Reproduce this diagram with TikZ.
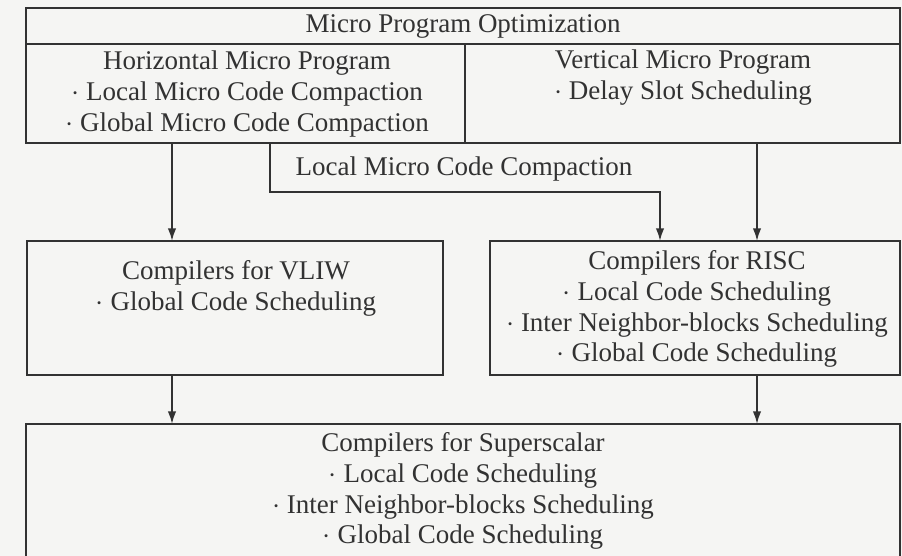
\documentclass[tikz,border=0pt]{standalone}
\usepackage{fontspec}
\setmainfont{Liberation Serif}
\usetikzlibrary{arrows.meta}
\definecolor{ink}{RGB}{50,50,50}
\definecolor{paper}{RGB}{245,245,243}

\begin{document}
\begin{tikzpicture}
			[x=0.025cm, y=-0.025cm, line width=1.2pt, draw=ink,
			box/.style ={rectangle, draw=ink, inner sep=0pt, outer sep=0pt},
			txt/.style ={align=center, text=ink, inner sep=0pt, font=\fontsize{19.2}{22}\selectfont},
			arr/.style ={draw=ink, -{Latex[length=9pt,width=6pt]}}]
			\useasboundingbox[fill=paper] (0,0) rectangle (902,556);
			\clip (0,0) rectangle (902,556);
			\node[box, minimum width=21.85cm, minimum height=3.375cm] (opt) at (463,75.5) {};
			\node[box, minimum width=10.4cm, minimum height=3.35cm] (vliw) at (235,308) {};
			\node[box, minimum width=10.25cm, minimum height=3.35cm] (risc) at (695,308) {};
			\node[box, minimum width=21.85cm, minimum height=3.9cm] (ss) at (463,502) {};
			\draw (opt.west |- 0,44) -- (opt.east |- 0,44);
			\draw (465,44) -- (465,0 |- opt.south);
			\node[txt] (title) at (463,26) {Micro Program Optimization};
			\node[txt] (horiz) at (247,94) {Horizontal Micro Program\\ $\cdot$ Local Micro Code Compaction\\ $\cdot$ Global Micro Code Compaction};
			\node[txt] (vert) at (683,78) {Vertical Micro Program\\ $\cdot$ Delay Slot Scheduling};
			\node[txt] (lmc) at (464,169) {Local Micro Code Compaction};
			\node[txt] (vliwtxt) at (236,288) {Compilers for VLIW\\ $\cdot$ Global Code Scheduling};
			\node[txt] (risctxt) at (697,309) {Compilers for RISC\\ $\cdot$ Local Code Scheduling\\ $\cdot$ Inter Neighbor-blocks Scheduling\\ $\cdot$ Global Code Scheduling};
			\node[txt] (sstxt) at (463,491) {Compilers for Superscalar\\ $\cdot$ Local Code Scheduling\\ $\cdot$ Inter Neighbor-blocks Scheduling\\ $\cdot$ Global Code Scheduling};
			\draw[arr] (172,0 |- opt.south) -- (172,0 |- vliw.north);
			\draw[arr] (270,0 |- opt.south) -- (270,192) -- (660,192) -- (660,0 |- risc.north);
			\draw[arr] (757,0 |- opt.south) -- (757,0 |- risc.north);
			\draw[arr] (172,0 |- vliw.south) -- (172,0 |- ss.north);
			\draw[arr] (757,0 |- risc.south) -- (757,0 |- ss.north);
		\end{tikzpicture}
\end{document}
